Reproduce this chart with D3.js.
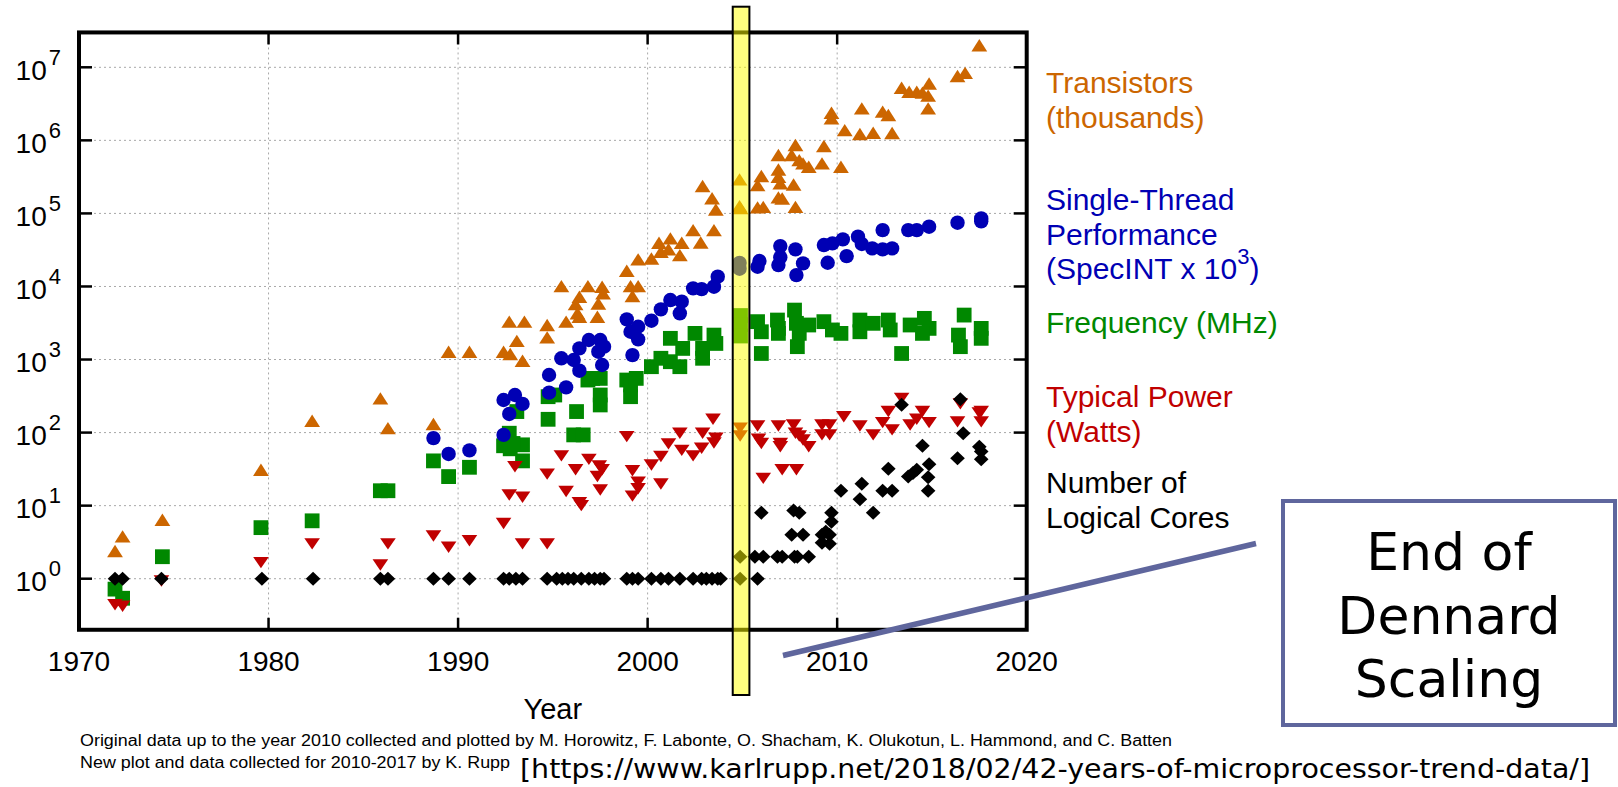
<!DOCTYPE html>
<html>
<head>
<meta charset="utf-8">
<script src="https://cdn.jsdelivr.net/npm/d3@7"></script>
<style>
  body { margin: 0; background: #fff; }
  svg { display: block; }
</style>
</head>
<body>
<div class="contain"></div>
<script>
const svg_width = 1618;
const svg_height = 787;

// data: [year, value]
const transistors = [
  [1971.9,2.4],[1972.3,3.8],[1974.4,6.4],[1979.6,31],[1982.3,145],[1985.9,294],[1986.3,115],
  [1988.7,131],[1989.5,1280],[1990.6,1280],[1992.4,1280],[1992.7,3300],[1993.1,1800],[1992.75,1190],
  [1993.4,964],[1993.5,3300],[1994.7,2970],[1994.7,2010],[1995.45,10100],[1995.7,3300],[1996.4,7240],
  [1996.2,5740],[1996.3,4290],[1996.4,3850],[1996.85,10100],[1997.4,5860],[1997.6,9930],[1997.65,8040],
  [1997.35,3850],[1998.9,16400],[1999.1,10100],[1999.5,10100],[1999.2,7400],[1999.5,23500],[2000.2,24200],
  [2000.6,39700],[2001.2,45500],[2000.7,29900],[2001.1,32300],[2001.8,39700],[2001.7,26900],[2002.4,59100],
  [2002.8,40000],[2003.5,59100],[2002.9,237000],[2003.4,161000],[2003.6,113000],[2004.85,292000],
  [2004.85,126000],[2004.9,118000],[2005.8,244000],[2006.0,325000],[2005.8,121000],[2006.1,123000],
  [2006.9,630000],[2006.9,400000],[2006.9,318000],[2007.0,258000],[2006.9,166000],[2007.1,160000],
  [2007.6,630000],[2007.8,863000],[2008.0,537000],[2008.2,484000],[2008.5,436000],[2007.7,249000],
  [2007.8,123000],[2009.3,836000],[2009.2,484000],[2010.2,436000],[2009.7,2390000],[2009.7,2000000],
  [2010.4,1380000],[2011.2,1220000],[2011.9,1270000],[2011.3,2740000],[2012.4,2470000],[2012.7,2220000],
  [2012.9,1260000],[2013.4,5250000],[2013.8,4620000],[2014.2,4620000],[2014.5,4500000],[2014.85,6000000],
  [2014.8,4090000],[2014.8,2740000],[2016.35,7600000],[2016.75,8400000],[2017.5,20000000]
];

const performance = [
  [1988.7,84],[1989.5,51],[1990.6,57],[1992.4,93],[1992.7,180],[1992.4,279],[1993.0,327],[1993.4,247],
  [1994.8,614],[1994.8,352],[1995.7,416],[1995.45,1040],[1996.1,985],[1996.4,1420],[1996.4,703],
  [1996.9,1850],[1997.5,1850],[1997.7,1500],[1997.4,1280],[1997.6,841],[1998.9,3550],[1999.1,2400],
  [1999.5,2810],[1999.5,1890],[1999.2,1150],[2000.2,3400],[2000.7,4860],[2001.2,6520],[2001.7,4290],
  [2001.8,6190],[2002.4,9430],[2002.85,9200],[2003.5,9930],[2003.7,13600],[2004.85,17500],[2004.85,21000],
  [2005.8,18600],[2005.9,22300],[2006.9,19600],[2007.0,25000],[2007.0,35700],[2007.8,32200],[2008.2,20700],
  [2007.85,14300],[2009.3,36900],[2009.75,38900],[2009.5,21100],[2010.3,44100],[2010.5,26000],[2011.1,48000],
  [2011.3,38100],[2011.85,33200],[2012.4,32200],[2012.9,33200],[2012.4,59100],[2013.75,59100],[2014.2,59100],
  [2014.85,65800],[2016.35,74600],[2017.6,85500],[2017.6,78000]
];

const frequency = [
  [1971.9,0.72],[1972.3,0.54],[1974.4,2.0],[1979.6,5.0],[1982.3,6.2],[1985.9,16],[1986.3,16],[1988.7,41],
  [1989.5,25],[1990.6,33.5],[1992.4,66],[1992.7,98],[1992.75,60],[1993.4,68],[1993.4,41],[1993.1,194],
  [1992.6,88],[1992.9,71],[1994.75,310],[1994.75,152],[1995.1,327],[1996.25,194],[1996.1,93],[1996.6,93],
  [1997.5,327],[1997.5,239],[1997.1,552],[1997.5,552],[1996.85,524],[1998.9,524],[1999.1,449],[1999.1,310],
  [1999.4,552],[2000.2,798],[2000.7,1040],[2001.2,934],[2001.7,798],[2001.2,1950],[2001.85,1420],
  [2002.5,2280],[2002.9,1040],[2002.9,1420],[2003.5,2160],[2003.6,1660],[2004.9,4000],[2004.9,3000],
  [2004.9,2100],[2005.8,3300],[2006.0,2400],[2006.0,1210],[2006.85,3470],[2006.9,2670],[2006.9,2280],
  [2007.75,4750],[2007.85,3130],[2008.0,2280],[2007.9,1500],[2008.5,2970],[2009.3,3300],[2009.75,2540],
  [2010.2,2280],[2011.2,3470],[2011.2,2400],[2011.9,3130],[2012.7,3470],[2012.8,2540],[2013.85,2970],
  [2014.6,3660],[2014.85,2670],[2014.5,2280],[2013.4,1210],[2016.7,4060],[2016.4,2160],[2016.5,1500],
  [2017.6,2670],[2017.6,1950]
];

const power = [
  [1971.9,0.44],[1972.3,0.42],[1974.35,0.93],[1979.6,1.66],[1982.3,3.0],[1985.9,1.54],[1986.3,3.0],
  [1988.7,3.85],[1989.5,2.7],[1990.6,3.3],[1992.4,5.7],[1992.7,14],[1993.4,13],[1993.4,3.0],[1993.0,34],
  [1994.7,3.0],[1994.7,27],[1995.45,48],[1995.7,15.6],[1996.2,31],[1996.4,11],[1996.5,10],[1996.9,43],
  [1997.45,35],[1997.6,31],[1997.35,25],[1997.5,16.4],[1998.9,88],[1999.2,30],[1999.5,21],[1999.5,17],
  [1999.2,13.5],[2000.2,36],[2000.7,47],[2000.7,19.8],[2001.1,70],[2001.7,98],[2001.8,57],[2002.4,48],
  [2002.85,61],[2002.9,98],[2003.45,152],[2003.6,84],[2003.5,72],[2004.88,115],[2004.88,90],[2005.8,123],
  [2005.85,81],[2006.0,71],[2006.1,23.6],[2006.9,123],[2007.0,71],[2007.0,64],[2007.1,31],[2007.7,127],
  [2007.8,98],[2008.0,90],[2008.2,79],[2008.5,64],[2007.85,31],[2009.2,127],[2009.6,127],[2009.2,93],
  [2009.6,93],[2010.35,165],[2011.2,123],[2011.9,93],[2012.4,137],[2012.7,194],[2012.9,109],[2013.4,294],
  [2013.85,127],[2014.2,152],[2014.5,194],[2014.85,137],[2016.35,140],[2016.5,247],[2017.6,194],
  [2017.6,140],[2017.5,185]
];

const cores = [
  [1971.9,1],[1972.3,1],[1974.35,1],[1979.65,1],[1982.35,1],[1985.9,1],[1986.3,1],[1988.7,1],[1989.5,1],
  [1990.6,1],[1992.4,1],[1992.7,1],[1993.05,1],[1993.4,1],[1994.7,1],[1995.2,1],[1995.5,1],[1995.8,1],
  [1996.1,1],[1996.5,1],[1996.9,1],[1997.2,1],[1997.5,1],[1997.7,1],[1998.9,1],[1999.2,1],[1999.5,1],
  [2000.2,1],[2000.7,1],[2001.1,1],[2001.7,1],[2002.4,1],[2002.85,1],[2003.1,1],[2003.4,1],[2003.7,1],
  [2003.85,1],[2004.88,1],[2005.8,1],
  [2004.88,2],[2005.66,2],[2006.1,2],[2006.85,2],[2007.1,2],[2007.75,2],[2007.9,2],[2008.5,2],
  [2007.6,4],[2008.2,4],[2009.2,4],[2009.6,4],[2006.0,8],[2007.7,8.6],[2008.0,8],[2009.7,8],[2009.7,6],
  [2009.2,3.1],[2009.6,3],[2009.4,4.4],[2010.2,16],[2011.3,20],[2011.2,12.2],[2011.9,8],[2012.4,16],
  [2012.9,16],[2012.7,32],[2013.4,240],[2013.75,25],[2014.0,28],[2014.2,31],[2014.5,66],[2014.85,37],
  [2014.8,24.5],[2014.8,16],[2016.35,44.5],[2016.65,98],[2016.5,285],[2017.5,64],[2017.6,55],[2017.6,43]
];

const xTicks = [1970, 1980, 1990, 2000, 2010, 2020];
const yExponents = [0, 1, 2, 3, 4, 5, 6, 7];

const legendLabels = [
  { lines: ["Transistors", "(thousands)"], color: "#cc6600", y: 93 },
  { lines: ["Single-Thread", "Performance", "(SpecINT x 10|3|)"], color: "#0000b4", y: 210 },
  { lines: ["Frequency (MHz)"], color: "#008800", y: 333 },
  { lines: ["Typical Power", "(Watts)"], color: "#c00000", y: 407 },
  { lines: ["Number of", "Logical Cores"], color: "#000000", y: 493 }
];

const boxLines = ["End of", "Dennard", "Scaling"];
const credits = [
  "Original data up to the year 2010 collected and plotted by M. Horowitz, F. Labonte, O. Shacham, K. Olukotun, L. Hammond, and C. Batten",
  "New plot and data collected for 2010-2017 by K. Rupp"
];
const sourceUrl = "[https://www.karlrupp.net/2018/02/42-years-of-microprocessor-trend-data/]";

let svg = d3.select(".contain").append("svg")
            .attr("width", svg_width).attr("height", svg_height);

const font = "'Liberation Sans', Arial, sans-serif";

let xScale = d3.scaleLinear().domain([1970, 2020]).range([79, 1026.7]);
let yScale = d3.scaleLog().domain([0.2, 3e7]).range([629.77, 32.44]);

const plotLeft = xScale(1970), plotRight = xScale(2020);
const plotTop = yScale(3e7), plotBottom = yScale(0.2);

// grid
let grid = svg.append("g").attr("stroke", "#a8a8a8").attr("stroke-width", 1)
              .attr("stroke-dasharray", "2,3");
grid.selectAll(".gx").data(xTicks.slice(1, -1)).enter().append("line")
    .attr("x1", d => xScale(d)).attr("x2", d => xScale(d))
    .attr("y1", plotTop).attr("y2", plotBottom);
grid.selectAll(".gy").data(yExponents).enter().append("line")
    .attr("x1", plotLeft).attr("x2", plotRight)
    .attr("y1", d => yScale(Math.pow(10, d))).attr("y2", d => yScale(Math.pow(10, d)));

// marker shapes (a bit larger, like gnuplot pointsize)
const shapes = {
  up: "M0,-6.2L7.9,6.2L-7.9,6.2Z",
  down: "M0,5.7L7.8,-5.7L-7.8,-5.7Z",
  square: "M-7.4,-7.4H7.4V7.4H-7.4Z",
  circle: "M7.2,0A7.2,7.2 0 1,1 -7.2,0A7.2,7.2 0 1,1 7.2,0Z",
  diamond: "M0,-7L7.3,0L0,7L-7.3,0Z"
};

const series = [
  { data: transistors, shape: "up", color: "#cc6600" },
  { data: frequency, shape: "square", color: "#008800" },
  { data: performance, shape: "circle", color: "#0000b4" },
  { data: power, shape: "down", color: "#c00000" },
  { data: cores, shape: "diamond", color: "#000000" }
];

series.forEach(s => {
  svg.append("g").selectAll("path")
    .data(s.data).enter().append("path")
    .attr("d", shapes[s.shape])
    .attr("transform", d => `translate(${xScale(d[0])},${yScale(d[1])})`)
    .attr("fill", s.color);
});

// ticks
let ticks = svg.append("g").attr("stroke", "#000").attr("stroke-width", 2.5);
xTicks.forEach(t => {
  ticks.append("line").attr("x1", xScale(t)).attr("x2", xScale(t)).attr("y1", plotTop).attr("y2", plotTop + 12);
  ticks.append("line").attr("x1", xScale(t)).attr("x2", xScale(t)).attr("y1", plotBottom).attr("y2", plotBottom - 12);
});
yExponents.forEach(e => {
  let yy = yScale(Math.pow(10, e));
  ticks.append("line").attr("x1", plotLeft).attr("x2", plotLeft + 13).attr("y1", yy).attr("y2", yy);
  ticks.append("line").attr("x1", plotRight).attr("x2", plotRight - 13).attr("y1", yy).attr("y2", yy);
});

// frame
svg.append("rect").attr("x", plotLeft).attr("y", plotTop)
   .attr("width", plotRight - plotLeft).attr("height", plotBottom - plotTop)
   .attr("fill", "none").attr("stroke", "#000").attr("stroke-width", 4);

// tick labels
svg.append("g").selectAll("text").data(xTicks).enter().append("text")
   .attr("x", d => xScale(d)).attr("y", 671)
   .attr("text-anchor", "middle").attr("font-family", font).attr("font-size", 28)
   .text(d => d);

let yl = svg.append("g").selectAll("text").data(yExponents).enter().append("text")
   .attr("x", 61).attr("y", d => yScale(Math.pow(10, d)) + 12.7)
   .attr("text-anchor", "end").attr("font-family", font).attr("font-size", 28);
yl.append("tspan").text("10");
yl.append("tspan").attr("dy", -15).attr("dx", 2).attr("font-size", 22).text(d => d);

svg.append("text").attr("x", (plotLeft + plotRight) / 2).attr("y", 719)
   .attr("text-anchor", "middle").attr("font-family", font).attr("font-size", 29)
   .text("Year");

// legend
legendLabels.forEach(l => {
  l.lines.forEach((line, i) => {
    let t = svg.append("text").attr("x", 1046).attr("y", l.y + i * 34.5)
       .attr("font-family", font).attr("font-size", 30).attr("fill", l.color);
    let parts = line.split("|");
    t.append("tspan").text(parts[0]);
    if (parts.length > 1) {
      t.append("tspan").attr("dy", -15).attr("font-size", 22).text(parts[1]);
      t.append("tspan").attr("dy", 15).text(parts[2]);
    }
  });
});

// yellow band at 2005
svg.append("rect")
   .attr("x", xScale(2004.49)).attr("y", 6.7)
   .attr("width", xScale(2005.37) - xScale(2004.49)).attr("height", 695 - 6.7)
   .attr("fill", "rgba(255,255,0,0.5)").attr("stroke", "#000").attr("stroke-width", 2);

// annotation
svg.append("line").attr("x1", 783).attr("y1", 655.5).attr("x2", 1256).attr("y2", 543.5)
   .attr("stroke", "#5f669d").attr("stroke-width", 5.5);
svg.append("rect").attr("x", 1283).attr("y", 501).attr("width", 332).attr("height", 224)
   .attr("fill", "#fff").attr("stroke", "#5f669d").attr("stroke-width", 4);
svg.append("g").selectAll("text").data(boxLines).enter().append("text")
   .attr("x", 1449).attr("y", (d, i) => 570 + i * 63.5)
   .attr("text-anchor", "middle").attr("font-family", "'DejaVu Sans', sans-serif")
   .attr("font-size", 52).text(d => d);

// credits
svg.append("g").selectAll("text").data(credits).enter().append("text")
   .attr("x", 80).attr("y", (d, i) => 746 + i * 22)
   .attr("font-family", "'Liberation Sans Narrow', 'Liberation Sans', sans-serif")
   .attr("font-size", 16)
   .attr("textLength", (d, i) => i === 0 ? 1092 : 430)
   .attr("lengthAdjust", "spacingAndGlyphs")
   .text(d => d);

svg.append("text").attr("x", 520).attr("y", 778)
   .attr("font-family", "'DejaVu Sans', sans-serif").attr("font-size", 27)
   .attr("textLength", 1070).attr("lengthAdjust", "spacingAndGlyphs")
   .text(sourceUrl);
</script>
</body>
</html>
